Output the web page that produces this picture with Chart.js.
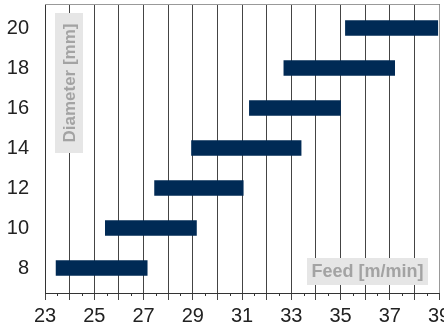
<!DOCTYPE html>
<html>
<head>
<meta charset="utf-8">
<script src="https://cdn.jsdelivr.net/npm/chart.js@4"></script>
<style>
  html, body { margin: 0; padding: 0; background: #fff; }
  #wrap { width: 444px; height: 329px; position: relative; }
</style>
</head>
<body>
<div id="wrap"><canvas id="feedChart"></canvas></div>
<script>
// diameter classes (mm) and the feed range (m/min) for each
const diameters = [8, 10, 12, 14, 16, 18, 20];
const feedMin = [23.45, 25.45, 27.45, 28.95, 31.3, 32.7, 35.2];
const feedMax = [27.15, 29.15, 31.05, 33.4, 35.0, 37.2, 38.95];
const yTicks = [8, 10, 12, 14, 16, 18, 20];
const xLabels = [23, 25, 27, 29, 31, 33, 35, 37, 39];

const barColor = '#002a55';
const gridColor = '#444';
const tickFont = "'Liberation Sans Narrow', 'Liberation Sans', Arial, sans-serif";

// axis titles in grey boxes, top/right frame and half-unit minor ticks
const extras = {
    id: 'extras',
    afterDraw(chart) {
        const ctx = chart.ctx;
        const a = chart.chartArea;
        const xs = chart.scales.x;
        ctx.save();

        // frame
        ctx.strokeStyle = '#999';
        ctx.lineWidth = 1;
        ctx.beginPath();
        ctx.moveTo(a.left, a.top + 0.5);
        ctx.lineTo(a.right + 0.5, a.top + 0.5);
        ctx.lineTo(a.right + 0.5, a.bottom);
        ctx.stroke();

        // minor ticks
        ctx.strokeStyle = '#333';
        ctx.beginPath();
        for (let v = xs.min + 0.5; v < xs.max; v += 1) {
            const px = Math.round(xs.getPixelForValue(v)) + 0.5;
            ctx.moveTo(px, a.bottom);
            ctx.lineTo(px, a.bottom + 3);
        }
        ctx.stroke();

        // x title
        ctx.fillStyle = '#e6e6e6';
        ctx.fillRect(a.right - 132, a.bottom - 35, 121, 27);
        ctx.fillStyle = '#a3a3a3';
        ctx.font = "bold 18px 'Liberation Sans', Arial, sans-serif";
        ctx.textAlign = 'center';
        ctx.textBaseline = 'middle';
        ctx.fillText('Feed [m/min]', a.right - 71.5, a.bottom - 21);

        // y title
        ctx.fillStyle = '#e6e6e6';
        ctx.fillRect(a.left + 10, a.top + 9, 28, 140);
        ctx.translate(a.left + 24, a.top + 79);
        ctx.rotate(-Math.PI / 2);
        ctx.fillStyle = '#a3a3a3';
        ctx.font = "bold 17px 'Liberation Sans', Arial, sans-serif";
        ctx.fillText('Diameter [mm]', 0, 1);

        ctx.restore();
    }
};

new Chart(document.getElementById('feedChart'), {
    type: 'bar',
    data: {
        datasets: [{
            data: diameters.map((d, i) => ({ y: d, x: [feedMin[i], feedMax[i]] })),
            backgroundColor: barColor,
            borderWidth: 0,
            borderSkipped: false,
            barThickness: 15
        }]
    },
    options: {
        indexAxis: 'y',
        responsive: true,
        maintainAspectRatio: false,
        animation: false,
        layout: { padding: { top: 4, right: 5, left: 0, bottom: 0 } },
        plugins: {
            legend: { display: false },
            tooltip: { enabled: false }
        },
        scales: {
            x: {
                type: 'linear',
                min: 23,
                max: 39,
                ticks: {
                    stepSize: 1,
                    autoSkip: false,
                    maxRotation: 0,
                    color: '#222',
                    padding: 4,
                    font: { family: tickFont, size: 20 },
                    callback: v => xLabels.includes(v) ? String(v) : ''
                },
                grid: { color: gridColor, tickColor: gridColor, tickLength: 7, lineWidth: 1 },
                border: { color: '#333', width: 1 },
                afterFit(s) {
                    s.height = 36;
                    s.paddingLeft = 0;
                    s.paddingRight = 0;
                }
            },
            y: {
                type: 'linear',
                offset: false,
                min: 6.75,
                max: 21.2,
                afterBuildTicks(s) {
                    s.ticks = yTicks.map(v => ({ value: v }));
                },
                ticks: {
                    color: '#222',
                    padding: 16,
                    font: { family: tickFont, size: 20 }
                },
                grid: { display: false, drawTicks: false, offset: false },
                border: { color: '#333', width: 1 },
                afterFit(s) {
                    s.width = 45;
                    s.paddingTop = 0;
                    s.paddingBottom = 0;
                }
            }
        }
    },
    plugins: [extras]
});
</script>
</body>
</html>
